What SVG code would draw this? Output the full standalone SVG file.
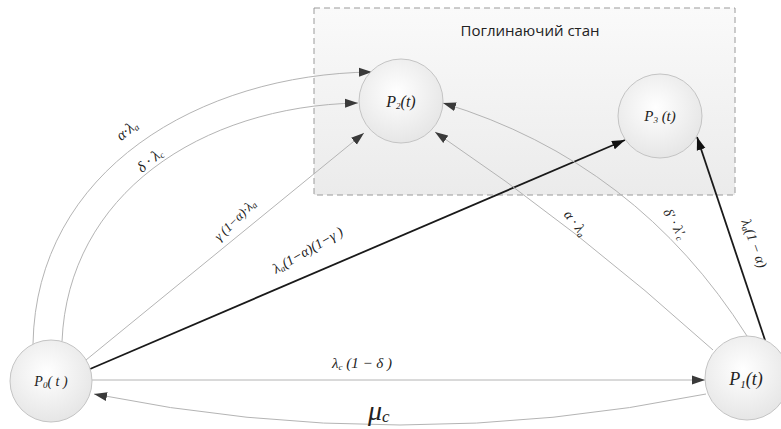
<svg xmlns="http://www.w3.org/2000/svg" width="781" height="429" viewBox="0 0 781 429">
<defs>
<radialGradient id="gNode" cx="45%" cy="40%" r="65%">
<stop offset="0" stop-color="#ffffff"/>
<stop offset="1" stop-color="#e4e4e4"/>
</radialGradient>
<linearGradient id="gBox" x1="0" y1="0" x2="0" y2="1">
<stop offset="0" stop-color="#fafafa"/>
<stop offset="1" stop-color="#ebebeb"/>
</linearGradient>
<marker id="aThin" markerUnits="userSpaceOnUse" markerWidth="14" markerHeight="10" refX="13" refY="5" orient="auto">
<path d="M0,0.5 L13,5 L0,9.5 Z" fill="#3a3a3a"/>
</marker>
<marker id="aBold" markerUnits="userSpaceOnUse" markerWidth="14" markerHeight="10" refX="13" refY="5" orient="auto">
<path d="M0,0.5 L13,5 L0,9.5 Z" fill="#111"/>
</marker>
</defs>
<style>
.node{fill:url(#gNode);stroke:#c4c4c4;stroke-width:1}
.thin{fill:none;stroke:#b4b4b4;stroke-width:1;marker-end:url(#aThin)}
.bold{fill:none;stroke:#1a1a1a;stroke-width:1.8;marker-end:url(#aBold)}
tspan.s{font-size:9px}
</style>
<rect width="781" height="429" fill="#ffffff"/>
<g id="absorbing">
<rect x="314" y="8" width="421" height="187" fill="url(#gBox)" stroke="#9a9a9a" stroke-width="1" stroke-dasharray="6,4"/>
<text x="530" y="36" font-family="Open Sans, Liberation Sans, sans-serif" font-size="15" fill="#222" text-anchor="middle">Поглинаючий стан</text>
</g>
<g id="connectors">
<path class="thin" d="M33,344 C36,170 200,74 372,72"/>
<path class="thin" d="M62,341.5 C68,195 200,106 358,103"/>
<path class="thin" d="M86,360 L364,133"/>
<path class="bold" d="M90,369 L625,140"/>
<path class="thin" d="M92,380 L705,380"/>
<path class="thin" d="M706,394 Q400,456 94,394"/>
<path class="thin" d="M713,350 Q578,228 435,132"/>
<path class="thin" d="M747,336 Q637,162 443,103"/>
<path class="bold" d="M765,340 L697,137"/>
</g>
<g id="labels" font-family="Liberation Serif, DejaVu Serif, serif" font-style="italic" fill="#222">
<text font-size="15" transform="translate(130,134) rotate(-40)" text-anchor="middle">α·λ<tspan class="s" dy="2">a</tspan></text>
<text font-size="15" transform="translate(153,164) rotate(-40)" text-anchor="middle">δ · λ<tspan class="s" dy="2">c</tspan></text>
<text font-size="13" transform="translate(238,223) rotate(-45)" text-anchor="middle">γ (1−α)·λ<tspan class="s" dy="2">a</tspan></text>
<text font-size="14" transform="translate(310,254) rotate(-30)" text-anchor="middle">λ<tspan class="s" dy="2">a</tspan><tspan dy="-2">(1−α)(1−γ )</tspan></text>
<text font-size="15" x="362" y="368" text-anchor="middle">λ<tspan class="s" dy="2">c</tspan><tspan dy="-2"> (1 − δ )</tspan></text>
<text font-size="28" x="368" y="420">μ<tspan font-size="17" dy="2">c</tspan></text>
<text font-size="14" transform="translate(572,226) rotate(52)" text-anchor="middle">α · λ<tspan class="s" dy="2">a</tspan></text>
<text font-size="14" transform="translate(671,226) rotate(60)" text-anchor="middle">δ′ · λ′<tspan class="s" dy="2">c</tspan></text>
<text font-size="14" transform="translate(750,245) rotate(70)" text-anchor="middle">λ<tspan class="s" dy="2">a</tspan><tspan dy="-2">(1 − α)</tspan></text>
</g>
<g id="P0" font-family="Liberation Serif, DejaVu Serif, serif" font-style="italic" fill="#222">
<circle class="node" cx="51" cy="381" r="41"/>
<text font-size="14" x="51" y="386" text-anchor="middle">P<tspan class="s" dy="2">0</tspan><tspan dy="-2">( t )</tspan></text>
</g>
<g id="P1" font-family="Liberation Serif, DejaVu Serif, serif" font-style="italic" fill="#222">
<circle class="node" cx="747" cy="378" r="42"/>
<text font-size="18" x="746" y="385" text-anchor="middle">P<tspan font-size="11" dy="3">1</tspan><tspan dy="-3">(t)</tspan></text>
</g>
<g id="P2" font-family="Liberation Serif, DejaVu Serif, serif" font-style="italic" fill="#222">
<circle class="node" cx="401" cy="101" r="42"/>
<text font-size="16" x="401" y="107" text-anchor="middle">P<tspan class="s" dy="2">2</tspan><tspan dy="-2">(t)</tspan></text>
</g>
<g id="P3" font-family="Liberation Serif, DejaVu Serif, serif" font-style="italic" fill="#222">
<circle class="node" cx="660" cy="116" r="42"/>
<text font-size="15" x="660" y="121" text-anchor="middle">P<tspan class="s" dy="2">3</tspan><tspan dy="-2"> (t)</tspan></text>
</g>
</svg>
